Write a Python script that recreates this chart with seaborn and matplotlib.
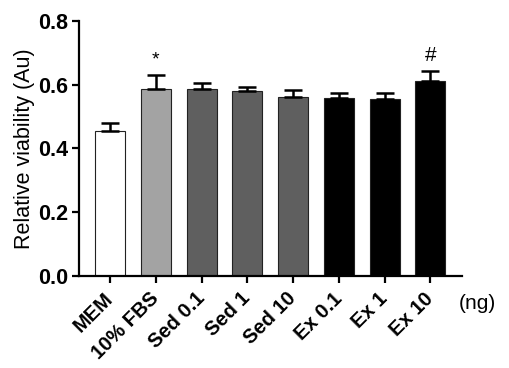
import matplotlib
matplotlib.use("Agg")
import matplotlib.pyplot as plt
import seaborn as sns
import pandas as pd
import numpy as np

categories = ["MEM", "10% FBS", "Sed 0.1", "Sed 1", "Sed 10", "Ex 0.1", "Ex 1", "Ex 10"]
values = [0.456, 0.586, 0.588, 0.579, 0.563, 0.558, 0.555, 0.612]
errors = [0.024, 0.044, 0.017, 0.013, 0.021, 0.015, 0.018, 0.030]
colors = ["#ffffff", "#a3a3a3", "#5f5f5f", "#5f5f5f", "#5f5f5f", "#000000", "#000000", "#000000"]
marks = ["", "*", "", "", "", "", "", "#"]

sns.set_theme(style="ticks")
plt.rcParams['font.family'] = ['Liberation Sans', 'DejaVu Sans']
plt.rcParams['text.color'] = 'black'
plt.rcParams['axes.labelcolor'] = 'black'
plt.rcParams['xtick.color'] = 'black'
plt.rcParams['ytick.color'] = 'black'

df = pd.DataFrame({"group": categories, "value": values})

fig = plt.figure(figsize=(5.1, 3.68), dpi=100)
ax = fig.add_axes([0.155, 0.25, 0.751, 0.693])

sns.barplot(data=df, x="group", y="value", hue="group", palette=colors,
            order=categories, errorbar=None, width=0.655, edgecolor="#222222",
            linewidth=0.8, legend=False, ax=ax, dodge=False)

x = np.arange(len(categories))
ax.errorbar(x, values, yerr=[np.zeros(len(errors)), errors], fmt="none",
            ecolor="black", elinewidth=1.8, capsize=6.5, capthick=1.8, zorder=3)

for xi, v, e, m in zip(x, values, errors, marks):
    if m:
        ax.text(xi, v + e + 0.02, m, ha="center", va="bottom",
                fontsize=15 if m == "#" else 14, color="black")

ax.set_ylim(0, 0.8)
ax.set_yticks([0.0, 0.2, 0.4, 0.6, 0.8])
ax.set_yticklabels(["0.0", "0.2", "0.4", "0.6", "0.8"])
ax.set_xlim(-0.68, 7.69)
ax.set_xlabel("")
ax.set_ylabel("Relative viability (Au)", fontsize=15.5, labelpad=2)

for lab in ax.get_yticklabels():
    lab.set_fontweight("bold")
    lab.set_fontsize(15.5)
ax.set_xticks(x)
ax.set_xticklabels(categories, rotation=45, ha="right", va="center",
                   rotation_mode="anchor", fontweight="bold", fontsize=14.5)

ax.tick_params(axis="both", direction="out", length=5, width=1.6, color="black")
ax.tick_params(axis="x", pad=9)
ax.tick_params(axis="y", pad=3)
for s in ["left", "bottom"]:
    ax.spines[s].set_linewidth(1.6)
    ax.spines[s].set_color("black")
sns.despine(ax=ax)

fig.text(0.9, 0.175, "(ng)", fontsize=15, ha="left", va="center")

fig.savefig("out.png", dpi=100)
